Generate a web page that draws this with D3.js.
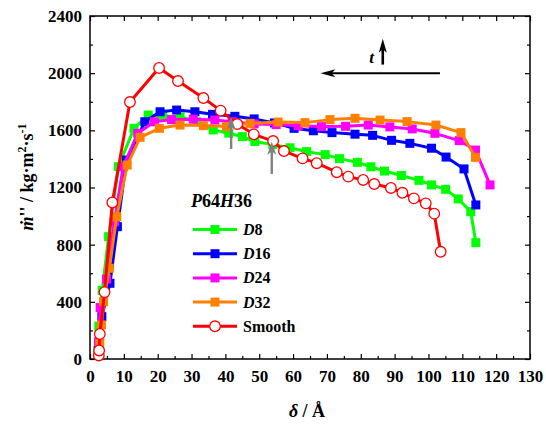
<!DOCTYPE html>
<html><head><meta charset="utf-8">
<script src="https://cdn.jsdelivr.net/npm/d3@7"></script>
<style>body{margin:0;background:#fff}svg{display:block}text{font-family:"Liberation Serif","Times New Roman",serif;font-weight:bold}</style>
</head><body>
<script>
const xTicks = [0,10,20,30,40,50,60,70,80,90,100,110,120,130];
const yTicks = [0,400,800,1200,1600,2000,2400];
const legendTitle = "P64H36";

const d8x  = [2.3, 2.6, 3.6, 5.5, 8.4, 13.0, 17.2, 21.5, 26.6, 31.5, 36.4, 41.0, 45.0, 48.7, 54.0, 59.1, 64.0, 69.5, 73.7, 79.0, 83.0, 87.0, 92.0, 97.2, 100.9, 105.1, 108.8, 112.5, 114.0];
const d8y  = [60, 230, 480, 856, 1346, 1614, 1707, 1700, 1695, 1660, 1603, 1580, 1556, 1522, 1500, 1478, 1451, 1430, 1402, 1376, 1345, 1315, 1284, 1250, 1218, 1187, 1120, 1031, 814];
const d16x = [2.5, 3.5, 5.9, 8.1, 10.8, 16.2, 20.7, 25.6, 31.0, 36.2, 42.8, 48.5, 54.5, 60.3, 66.0, 71.5, 78.3, 83.5, 89.1, 94.5, 100.9, 105.2, 110.5, 114.0];
const d16y = [100, 296, 530, 926, 1392, 1660, 1730, 1742, 1730, 1712, 1698, 1680, 1652, 1614, 1597, 1584, 1573, 1565, 1530, 1509, 1475, 1413, 1330, 1078];
const d24x = [2.5, 3.0, 4.9, 7.2, 9.8, 14.1, 19.0, 24.1, 30.5, 36.9, 42.0, 48.5, 55.0, 61.5, 68.4, 75.5, 82.2, 88.6, 95.2, 101.9, 109.1, 113.9, 118.2];
const d24y = [120, 360, 560, 960, 1346, 1579, 1660, 1675, 1678, 1672, 1660, 1645, 1640, 1632, 1626, 1628, 1637, 1624, 1610, 1579, 1528, 1462, 1218];
const d32x = [2.5, 2.9, 3.4, 4.0, 5.7, 7.9, 11.0, 14.8, 20.5, 26.6, 33.5, 40.3, 47.3, 55.6, 63.5, 70.9, 78.3, 85.7, 93.7, 102.2, 109.6, 113.9];
const d32y = [30, 110, 238, 401, 635, 996, 1357, 1551, 1614, 1637, 1633, 1626, 1649, 1658, 1654, 1675, 1684, 1672, 1661, 1637, 1584, 1411];
const smx  = [2.6, 2.7, 2.9, 4.3, 6.6, 11.8, 20.4, 26.0, 33.5, 38.6, 43.5, 48.4, 54.1, 57.3, 62.8, 67.0, 72.9, 76.3, 80.7, 84.0, 88.9, 92.3, 95.7, 99.2, 101.7, 103.6];
const smy  = [25, 60, 175, 468, 1095, 1798, 2036, 1945, 1826, 1738, 1644, 1572, 1525, 1455, 1404, 1370, 1307, 1276, 1253, 1224, 1197, 1163, 1124, 1089, 1017, 750];

const seriesNames = ["D8", "D16", "D24", "D32", "Smooth"];
const seriesColors = ["#00ff00", "#0000ff", "#ff00ff", "#ff8000", "#ff0000"];
const seriesX = [d8x, d16x, d24x, d32x, smx];
const seriesY = [d8y, d16y, d24y, d32y, smy];

// annotation arrows (data coords)
const grayArrows = [[41.7, 1470, 1695], [53.7, 1295, 1520]];

const W = 546, H = 427;
const svg = d3.select("body").append("svg").attr("width", W).attr("height", H);
const x = d3.scaleLinear().domain([0,130]).range([90,530]);
const y = d3.scaleLinear().domain([0,2400]).range([359,16]);

function styleAxis(g){ g.select(".domain").remove(); g.selectAll("line").attr("stroke","#000").attr("stroke-width",1.2); g.selectAll("text").attr("font-size",17).attr("fill","#000").attr("font-family","Liberation Serif").attr("font-weight","bold"); }
const xMinor = d3.range(5,130,10), yMinor = d3.range(200,2400,400);

svg.append("g").attr("transform","translate(0,359)").call(d3.axisBottom(x).tickValues(xTicks).tickSize(-5).tickPadding(11).tickFormat(d3.format("d"))).call(styleAxis);
svg.append("g").attr("transform","translate(0,359)").call(d3.axisBottom(x).tickValues(xMinor).tickSize(-3).tickFormat("")).call(styleAxis);
svg.append("g").attr("transform","translate(0,16)").call(d3.axisTop(x).tickValues(xTicks).tickSize(-5).tickFormat("")).call(styleAxis);
svg.append("g").attr("transform","translate(0,16)").call(d3.axisTop(x).tickValues(xMinor).tickSize(-3).tickFormat("")).call(styleAxis);
svg.append("g").attr("transform","translate(90,0)").call(d3.axisLeft(y).tickValues(yTicks).tickSize(-5).tickPadding(8).tickFormat(d3.format("d"))).call(styleAxis);
svg.append("g").attr("transform","translate(90,0)").call(d3.axisLeft(y).tickValues(yMinor).tickSize(-3).tickFormat("")).call(styleAxis);
svg.append("g").attr("transform","translate(530,0)").call(d3.axisRight(y).tickValues(yTicks).tickSize(-5).tickFormat("")).call(styleAxis);
svg.append("g").attr("transform","translate(530,0)").call(d3.axisRight(y).tickValues(yMinor).tickSize(-3).tickFormat("")).call(styleAxis);

svg.append("rect").attr("x",x(0)).attr("y",y(2400)).attr("width",x(130)-x(0)).attr("height",y(0)-y(2400)).attr("fill","none").attr("stroke","#000").attr("stroke-width",1.5);

// series
const line = d3.line().x(d=>x(d[0])).y(d=>y(d[1]));
seriesNames.forEach((name,i)=>{
  const pts = seriesX[i].map((v,j)=>[v, seriesY[i][j]]);
  const g = svg.append("g");
  g.append("path").datum(pts).attr("d",line).attr("fill","none").attr("stroke",seriesColors[i]).attr("stroke-width",3).attr("stroke-linejoin","round");
  if (name === "Smooth") {
    g.selectAll("circle").data(pts).join("circle").attr("cx",d=>x(d[0])).attr("cy",d=>y(d[1])).attr("r",5.3).attr("fill","#fff").attr("stroke",seriesColors[i]).attr("stroke-width",1.3);
  } else {
    g.selectAll("rect").data(pts).join("rect").attr("x",d=>x(d[0])-4.5).attr("y",d=>y(d[1])-4.5).attr("width",9).attr("height",9).attr("fill",seriesColors[i]);
  }
});

// arrows drawn with explicit heads
function upArrow(px, yb, yt, color, sw, hw, hl){
  svg.append("line").attr("x1",px).attr("x2",px).attr("y1",yb).attr("y2",yt+hl*0.7).attr("stroke",color).attr("stroke-width",sw);
  svg.append("path").attr("d",`M${px},${yt} L${px+hw/2},${yt+hl} L${px},${yt+hl*0.75} L${px-hw/2},${yt+hl} Z`).attr("fill",color);
}
grayArrows.forEach(a=> upArrow(x(a[0]), y(a[1]), y(a[2]), "#808080", 2.4, 9, 13));
upArrow(x(86.5), y(2060), y(2240), "#000", 2.6, 8, 14);
{
  const x1 = x(103.4), x2 = x(68.1), yy = y(2000);
  svg.append("line").attr("x1",x1).attr("x2",x2+10).attr("y1",yy).attr("y2",yy).attr("stroke","#000").attr("stroke-width",2);
  svg.append("path").attr("d",`M${x2},${yy} L${x2+15},${yy-4} L${x2+11},${yy} L${x2+15},${yy+4} Z`).attr("fill","#000");
}
svg.append("text").attr("x",x(83.2)).attr("y",y(2070)).attr("text-anchor","middle").attr("font-size",17).attr("font-style","italic").text("t");

// legend
svg.append("text").attr("x",191).attr("y",207).attr("font-size",18).attr("font-style","italic")
  .call(t=>{ t.append("tspan").text("P"); t.append("tspan").attr("font-style","normal").text("64"); t.append("tspan").text("H"); t.append("tspan").attr("font-style","normal").text("36"); });
const ly0 = 229.5, lstep = 24.2;
seriesNames.forEach((name,i)=>{
  const yy = ly0 + i*lstep;
  svg.append("line").attr("x1",193).attr("x2",237).attr("y1",yy).attr("y2",yy).attr("stroke",seriesColors[i]).attr("stroke-width",3);
  if (name === "Smooth") svg.append("circle").attr("cx",215).attr("cy",yy).attr("r",5.3).attr("fill","#fff").attr("stroke",seriesColors[i]).attr("stroke-width",1.3);
  else svg.append("rect").attr("x",210.5).attr("y",yy-4.5).attr("width",9).attr("height",9).attr("fill",seriesColors[i]);
  const t = svg.append("text").attr("x",243).attr("y",yy+5.5).attr("font-size",16);
  if (name === "Smooth") t.text(name);
  else { t.append("tspan").attr("font-style","italic").text(name[0]); t.append("tspan").text(name.slice(1)); }
});

// axis titles
const xt = svg.append("text").attr("x",307).attr("y",417).attr("text-anchor","middle").attr("font-size",18);
xt.append("tspan").attr("font-style","italic").text("δ"); xt.append("tspan").text(" / Å");
const yt = svg.append("text").attr("transform","translate(33,177) rotate(-90)").attr("text-anchor","middle").attr("font-size",18);
yt.append("tspan").attr("font-style","italic").text("ṁ");
yt.append("tspan").text("'' / kg·m");
yt.append("tspan").attr("font-size",12).attr("dy",-7).text("2");
yt.append("tspan").attr("dy",7).text("·s");
yt.append("tspan").attr("font-size",12).attr("dy",-7).text("-1");
</script>
</body></html>
